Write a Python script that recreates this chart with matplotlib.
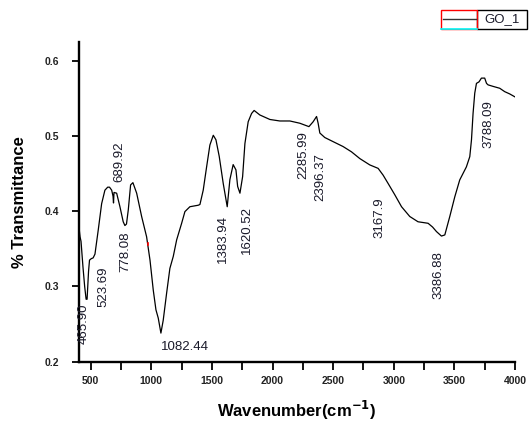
import matplotlib
matplotlib.use("Agg")
import matplotlib.pyplot as plt
from matplotlib.patches import Rectangle
from matplotlib.lines import Line2D

plt.rcParams['font.family'] = ['Liberation Sans', 'DejaVu Sans']

# ---- data ----
wavenumber = [400, 412, 420, 436, 450, 462, 470, 482, 490, 505, 520, 535, 562, 590,
              617, 640, 655, 673, 684, 688, 692, 714, 741, 768, 782, 795, 810, 829,
              848, 879, 920, 961, 989, 1016, 1038, 1057, 1079, 1098, 1126, 1153,
              1181, 1209, 1250, 1277, 1318, 1387, 1401, 1428, 1456, 1483, 1511,
              1533, 1560, 1593, 1626, 1648, 1675, 1698, 1712, 1731, 1753, 1772,
              1799, 1827, 1848, 1895, 1978, 2060, 2143, 2225, 2300, 2335, 2363,
              2376, 2390, 2431, 2500, 2582, 2651, 2720, 2802, 2871, 2912, 2953,
              3008, 3064, 3132, 3200, 3283, 3320, 3352, 3393, 3421, 3462, 3503,
              3544, 3599, 3627, 3641, 3654, 3668, 3682, 3703, 3723, 3750, 3765,
              3778, 3819, 3874, 3915, 3956, 4000]
transmittance = [0.383, 0.366, 0.360, 0.326, 0.300, 0.283, 0.283, 0.320, 0.335, 0.337,
                 0.338, 0.343, 0.375, 0.410, 0.428, 0.432, 0.432, 0.428, 0.420, 0.411,
                 0.425, 0.424, 0.406, 0.386, 0.381, 0.383, 0.402, 0.435, 0.438, 0.424,
                 0.393, 0.366, 0.335, 0.295, 0.269, 0.258, 0.238, 0.255, 0.291, 0.324,
                 0.340, 0.362, 0.384, 0.3995, 0.406, 0.408, 0.409, 0.428, 0.459, 0.488,
                 0.501, 0.495, 0.473, 0.437, 0.406, 0.442, 0.462, 0.455, 0.433, 0.424,
                 0.446, 0.490, 0.519, 0.530, 0.534, 0.528, 0.522, 0.520, 0.520, 0.517,
                 0.5125, 0.519, 0.526, 0.517, 0.504, 0.498, 0.4925, 0.486, 0.479, 0.470,
                 0.4616, 0.457, 0.448, 0.437, 0.422, 0.406, 0.393, 0.386, 0.384, 0.379,
                 0.373, 0.367, 0.3685, 0.393, 0.419, 0.4416, 0.459, 0.4726, 0.495, 0.530,
                 0.557, 0.570, 0.572, 0.577, 0.577, 0.570, 0.568, 0.566, 0.5635, 0.559,
                 0.556, 0.552]

peak_labels = ["465.90", "523.69", "689.92", "778.08", "1383.94", "1620.52",
               "2285.99", "2396.37", "3167.9", "3386.88", "3788.09"]
label_x = [445, 604, 735, 783, 1588, 1786, 2252, 2390, 2885, 3372, 3778]
label_y = [0.251, 0.300, 0.4656, 0.3466, 0.363, 0.375, 0.475, 0.446, 0.392, 0.3146, 0.516]
min_label = "1082.44"
min_label_x = 1080
min_label_y = 0.220

x_ticks = [500, 1000, 1500, 2000, 2500, 3000, 3500, 4000]
y_ticks = [0.2, 0.3, 0.4, 0.5, 0.6]

# ---- figure ----
fig = plt.figure(figsize=(5.3, 4.26), dpi=100)
ax = fig.add_axes([0.1483, 0.151, 0.8234, 0.7504])

ax.plot(wavenumber, transmittance, color='black', lw=0.9)

ax.set_xlim(400, 4000)
ax.set_ylim(0.2, 0.625)
ax.set_xticks(x_ticks)
ax.set_xticks([750, 1250, 1750, 2250, 2750, 3250, 3750], minor=True)
ax.set_yticks(y_ticks)
ax.set_yticklabels([f"{v:.1f}" for v in y_ticks])

for s in ['top', 'right']:
    ax.spines[s].set_visible(False)
for s in ['left', 'bottom']:
    ax.spines[s].set_linewidth(1.7)

ax.tick_params(axis='x', which='both', direction='out', length=5.5, width=1.3,
               labelsize=7.5, pad=5, labelcolor='#222222')
ax.tick_params(axis='y', which='both', direction='out', length=5, width=1.3,
               labelsize=7.5, pad=9, labelcolor='#222222')
for lab in ax.get_xticklabels() + ax.get_yticklabels():
    lab.set_fontweight('bold')

ax.set_xlabel("Wavenumber(cm$^{\\mathbf{-1}}$)", fontsize=12, fontweight='bold',
              labelpad=9)
ax.set_ylabel("% Transmittance", fontsize=12, fontweight='bold', labelpad=13)

for t, xv, yv in zip(peak_labels, label_x, label_y):
    ax.text(xv, yv, t, rotation=90, ha='center', va='center', fontsize=9.5,
            color='#1a1a2a')
ax.text(min_label_x, min_label_y, min_label, ha='left', va='center', fontsize=9.5,
        color='#1a1a2a')

# small red artifact mark
ax.plot([975, 975], [0.3555, 0.3575], color='red', lw=1.2)

# ---- legend box (drawn like the reference) ----
W, H = 530.0, 426.0
def fx(px):
    return px / W
def fy(py):
    return 1 - py / H

fig.patches.append(Rectangle((fx(477), fy(29)), fx(527) - fx(477), fy(9.5) - fy(29),
                             transform=fig.transFigure, fill=False, ec='black', lw=1.0))
fig.patches.append(Rectangle((fx(441), fy(29)), fx(477) - fx(441), fy(9.5) - fy(29),
                             transform=fig.transFigure, fill=False, ec='red', lw=1.0))
fig.lines.append(Line2D([fx(441), fx(477)], [fy(28.7), fy(28.7)], transform=fig.transFigure,
                        color='cyan', lw=1.2))
fig.lines.append(Line2D([fx(443), fx(476)], [fy(19.3), fy(19.3)], transform=fig.transFigure,
                        color='#333333', lw=1.0))
fig.text(fx(484), fy(19.3), "GO_1", ha='left', va='center', fontsize=9.5, color='#1a1a2a')

fig.savefig("out.png", dpi=100)
